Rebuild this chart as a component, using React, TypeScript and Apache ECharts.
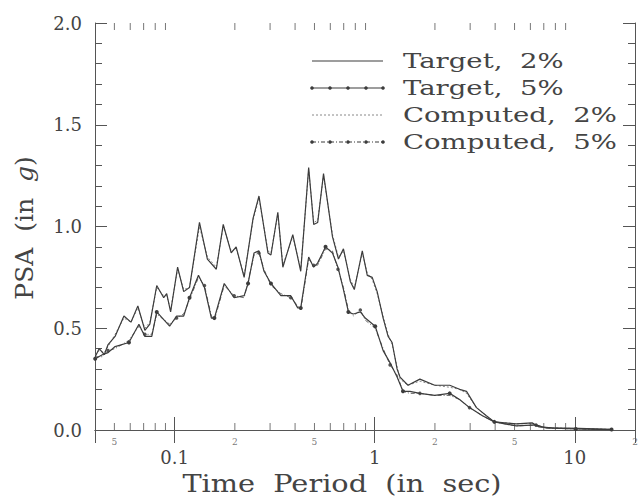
import React, { useEffect, useRef } from "react";
import * as echarts from "echarts";

// ---- data ----
const periods2 = [0.0401,0.042,0.0445,0.0465,0.0504,0.0558,0.0605,0.0655,0.071,0.0752,0.0814,0.0882,0.0913,0.0955,0.1035,0.111,0.1187,0.1331,0.1458,0.1616,0.175,0.1918,0.203,0.2226,0.2466,0.264,0.2927,0.303,0.328,0.3475,0.3896,0.4269,0.4677,0.4955,0.519,0.5549,0.615,0.659,0.698,0.7553,0.791,0.867,0.918,0.972,1.029,1.102,1.167,1.222,1.294,1.339,1.467,1.682,1.996,2.371,2.656,2.877,3.226,3.615,3.963,5.097,6.12,6.63,7.69,10.47,15.27];
const target2 = [0.36,0.40,0.37,0.42,0.46,0.56,0.53,0.61,0.49,0.52,0.71,0.65,0.67,0.58,0.80,0.68,0.70,1.02,0.84,0.79,1.01,0.87,0.90,0.75,1.04,1.15,0.87,0.86,1.07,0.80,0.96,0.78,1.29,1.01,1.02,1.26,0.95,0.84,0.89,0.73,0.69,0.88,0.76,0.75,0.68,0.55,0.46,0.43,0.30,0.26,0.22,0.25,0.22,0.22,0.20,0.19,0.11,0.07,0.04,0.03,0.035,0.015,0.01,0.008,0.003];
const computed2 = [0.37,0.39,0.38,0.41,0.47,0.55,0.53,0.60,0.50,0.53,0.70,0.66,0.66,0.59,0.79,0.69,0.70,1.00,0.85,0.80,1.00,0.88,0.89,0.76,1.03,1.14,0.88,0.87,1.06,0.81,0.95,0.79,1.28,1.02,1.03,1.25,0.96,0.85,0.88,0.74,0.70,0.87,0.77,0.74,0.67,0.56,0.47,0.42,0.31,0.25,0.22,0.24,0.22,0.21,0.20,0.18,0.11,0.07,0.04,0.03,0.033,0.016,0.01,0.007,0.003];

const periods5 = [0.0401,0.0435,0.0465,0.0504,0.0591,0.0663,0.071,0.0769,0.0814,0.0944,0.1023,0.111,0.1187,0.1316,0.141,0.1527,0.158,0.177,0.1985,0.2226,0.2329,0.2494,0.264,0.2797,0.303,0.3396,0.3807,0.4124,0.4269,0.4677,0.4952,0.5183,0.568,0.615,0.6553,0.698,0.7387,0.782,0.8476,0.8973,1.006,1.102,1.194,1.294,1.385,1.5,1.682,1.996,2.371,2.656,2.978,3.456,3.963,5.097,6.405,7.18,10.12,15.27];
const target5 = [0.35,0.37,0.38,0.41,0.43,0.52,0.46,0.46,0.58,0.51,0.56,0.56,0.65,0.76,0.70,0.55,0.55,0.72,0.65,0.66,0.72,0.87,0.88,0.78,0.72,0.66,0.66,0.60,0.60,0.85,0.80,0.82,0.90,0.87,0.80,0.69,0.58,0.57,0.58,0.55,0.51,0.39,0.33,0.26,0.19,0.19,0.18,0.17,0.18,0.15,0.11,0.07,0.04,0.02,0.025,0.01,0.005,0.002];
const computed5 = [0.36,0.36,0.39,0.40,0.44,0.51,0.47,0.47,0.57,0.52,0.55,0.57,0.64,0.75,0.71,0.56,0.54,0.71,0.66,0.65,0.73,0.86,0.87,0.79,0.71,0.67,0.65,0.61,0.59,0.84,0.81,0.81,0.89,0.88,0.79,0.70,0.59,0.56,0.59,0.54,0.50,0.40,0.32,0.27,0.19,0.18,0.18,0.17,0.17,0.15,0.11,0.07,0.04,0.02,0.024,0.01,0.005,0.002];

const seriesNames = ["Target,  2%", "Target,  5%", "Computed,  2%", "Computed,  5%"];
const minorTickValues = [0.05,0.06,0.07,0.08,0.09,0.2,0.3,0.4,0.5,0.6,0.7,0.8,0.9,2,3,4,5,6,7,8,9];
const minorLabelValues = [0.05, 0.2, 0.5, 2, 5, 20];
const minorLabelTexts = ["5", "2", "5", "2", "5", "2"];
const xTitle = "Time  Period  (in  sec)";
const yTitleRich = "PSA  (in  {i|g})";

const FONT = "'DejaVu Serif', serif";
const INK = "#3c3c3c";
const AXIS = "#555";

const zip = (xs: number[], ys: number[]) => xs.map((x, i) => [x, ys[i]]);

export default function App() {
  const ref = useRef<HTMLDivElement>(null);
  useEffect(() => {
    if (!ref.current) return;
    const chart = echarts.init(ref.current, undefined, { renderer: "svg" });

    const logLabel = (v: number) => {
      const l = Math.log10(v);
      if (Math.abs(l - Math.round(l)) < 1e-6) return String(+Math.pow(10, Math.round(l)).toPrecision(1));
      return "";
    };

    const xBase = {
      type: "log" as const,
      logBase: 10,
      min: 0.04,
      max: 20,
      axisLine: { show: true, lineStyle: { color: AXIS, width: 1 } },
      axisTick: { show: true, inside: true, length: 13, lineStyle: { color: AXIS } },
      splitLine: { show: false },
      minorTick: { show: false },
    };
    const yBase = {
      type: "value" as const,
      min: 0,
      max: 2,
      interval: 0.5,
      axisLine: { show: true, lineStyle: { color: AXIS, width: 1 } },
      axisTick: { show: true, inside: true, length: 12, lineStyle: { color: AXIS } },
      minorTick: { show: true, splitNumber: 5, length: 7, lineStyle: { color: AXIS } },
      splitLine: { show: false },
    };

    const legendX0 = 312, legendX1 = 383, legendTextX = 403;
    const rows = [61, 88, 115, 142];
    const dotXs = [312, 330, 348, 366, 383];
    const legendGraphics: any[] = [];
    rows.forEach((y, i) => {
      const dash = i === 2 ? [2, 2] : i === 3 ? [4, 2, 1, 2] : undefined;
      legendGraphics.push({
        type: "line",
        shape: { x1: legendX0, y1: y, x2: legendX1, y2: y },
        style: { stroke: i === 2 ? "#888" : INK, lineWidth: i === 2 ? 1 : 1.2, lineDash: dash },
      });
      if (i === 1 || i === 3) {
        dotXs.forEach((dx) =>
          legendGraphics.push({ type: "circle", shape: { cx: dx, cy: y, r: 1.8 }, style: { fill: INK } })
        );
      }
      legendGraphics.push({
        type: "text",
        x: legendTextX,
        y: y,
        scaleX: 1.31,
        style: { text: seriesNames[i], fontSize: 21, fontFamily: FONT, fill: "#444", align: "left", verticalAlign: "middle" },
      });
    });

    chart.setOption({
      animation: false,
      backgroundColor: "#fff",
      grid: { left: 95, right: 6, top: 23, bottom: 71, containLabel: false },
      xAxis: [
        {
          ...xBase,
          position: "bottom",
          axisLabel: { show: true, margin: 18, fontSize: 18, fontFamily: FONT, color: "#444", formatter: logLabel, showMinLabel: false, showMaxLabel: false },
        },
        { ...xBase, position: "top", axisLabel: { show: false } },
      ],
      yAxis: [
        {
          ...yBase,
          position: "left",
          axisLabel: { show: true, margin: 13, fontSize: 18, fontFamily: FONT, color: "#444", formatter: (v: number) => v.toFixed(1) },
        },
        { ...yBase, position: "right", axisLabel: { show: false } },
      ],
      graphic: [
        {
          type: "text",
          x: 342,
          y: 483,
          scaleX: 1.15,
          style: { text: xTitle, fontSize: 25, fontFamily: FONT, fill: "#444", align: "center", verticalAlign: "middle" },
        },
        {
          type: "text",
          x: 24,
          y: 228,
          rotation: Math.PI / 2,
          style: {
            text: yTitleRich,
            fontSize: 25,
            fontFamily: FONT,
            fill: "#444",
            align: "center",
            verticalAlign: "middle",
            rich: { i: { fontStyle: "italic", fontSize: 25, fontFamily: FONT, fill: "#444" } },
          },
        },
        ...legendGraphics,
      ],
      series: [
        {
          name: seriesNames[0],
          type: "line",
          data: zip(periods2, target2),
          showSymbol: false,
          symbol: "none",
          lineStyle: { color: INK, width: 1.2 },
          z: 5,
        },
        {
          name: seriesNames[1],
          type: "line",
          data: zip(periods5, target5),
          symbol: (_v: any, p: any) => (p.dataIndex % 4 === 0 || p.dataIndex === periods5.length - 1 ? "circle" : "none"),
          symbolSize: 4,
          itemStyle: { color: INK },
          lineStyle: { color: INK, width: 1.2 },
          z: 5,
        },
        {
          name: seriesNames[2],
          type: "line",
          data: zip(periods2, computed2),
          symbol: "none",
          lineStyle: { color: "#888", width: 1, type: [2, 2] },
          z: 4,
        },
        {
          name: seriesNames[3],
          type: "line",
          data: zip(periods5, computed5),
          symbol: (_v: any, p: any) => (p.dataIndex % 4 === 2 ? "circle" : "none"),
          symbolSize: 3.5,
          itemStyle: { color: "#555" },
          lineStyle: { color: "#666", width: 1, type: [4, 2, 1, 2] },
          z: 4,
        },
        {
          type: "scatter",
          silent: true,
          clip: false,
          data: minorTickValues.map((v) => [v, 0]),
          symbol: "rect",
          symbolSize: [1, 7],
          symbolOffset: [0, -3.5],
          itemStyle: { color: AXIS },
          z: 3,
        },
        {
          type: "scatter",
          silent: true,
          clip: false,
          data: minorTickValues.map((v) => [v, 2]),
          symbol: "rect",
          symbolSize: [1, 7],
          symbolOffset: [0, 3.5],
          itemStyle: { color: AXIS },
          z: 3,
        },
        {
          type: "scatter",
          silent: true,
          clip: false,
          data: minorLabelValues.map((v) => [v, 0]),
          symbolSize: 1,
          itemStyle: { color: "rgba(0,0,0,0)" },
          label: {
            show: true,
            position: "bottom",
            distance: 7,
            fontSize: 9,
            fontFamily: FONT,
            color: "#555",
            formatter: (p: any) => minorLabelTexts[p.dataIndex],
          },
          z: 3,
        },
      ],
    });
    return () => chart.dispose();
  }, []);

  return (
    <div
      ref={ref}
      style={{ position: "absolute", left: 0, top: 0, width: 641, height: 501, background: "#fff" }}
    />
  );
}
